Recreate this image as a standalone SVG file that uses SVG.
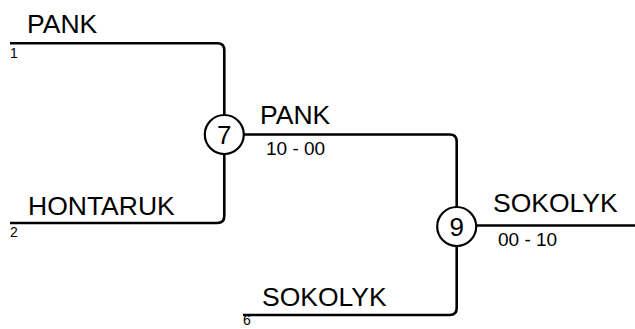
<svg xmlns="http://www.w3.org/2000/svg" width="635" height="329" viewBox="0 0 635 329">
<style>
.ln{fill:none;stroke:#000;stroke-width:2.6}
.c{fill:#fff;stroke:#000;stroke-width:2.2}
.name{font-family:"Liberation Sans",Arial,sans-serif;font-size:26.5px;fill:#000}
.seed{font-family:"Liberation Sans",Arial,sans-serif;font-size:14px;fill:#000}
.score{font-family:"Liberation Sans",Arial,sans-serif;font-size:19px;fill:#000}
.num{font-family:"Liberation Sans",Arial,sans-serif;font-size:26px;fill:#000;text-anchor:middle}
</style>
<g id="connectors">
<path class="ln" d="M10,43.3 H217.3 Q224.3,43.3 224.3,50.3 V216 Q224.3,223 217.3,223 H10"/>
<path class="ln" d="M224.3,134.5 H449.7 Q456.7,134.5 456.7,141.5 V308 Q456.7,315 449.7,315 H243"/>
<path class="ln" d="M456.7,225.5 H635"/>
</g>
<g id="p1"><text class="name" x="27" y="33">PANK</text><text class="seed" x="10" y="58">1</text></g>
<g id="p2"><text class="name" x="28" y="215">HONTARUK</text><text class="seed" x="10" y="237">2</text></g>
<g id="p6"><text class="name" x="262" y="306">SOKOLYK</text><text class="seed" x="243" y="325">6</text></g>
<g id="m7"><circle class="c" cx="224.3" cy="134.5" r="19.5"/><text class="num" x="224.3" y="144">7</text></g>
<g id="w7"><text class="name" x="260" y="124">PANK</text><text class="score" x="266" y="155">10 - 00</text></g>
<g id="m9"><circle class="c" cx="456.7" cy="226.5" r="19.5"/><text class="num" x="456.7" y="236">9</text></g>
<g id="w9"><text class="name" x="493" y="212">SOKOLYK</text><text class="score" x="498" y="246">00 - 10</text></g>
</svg>
